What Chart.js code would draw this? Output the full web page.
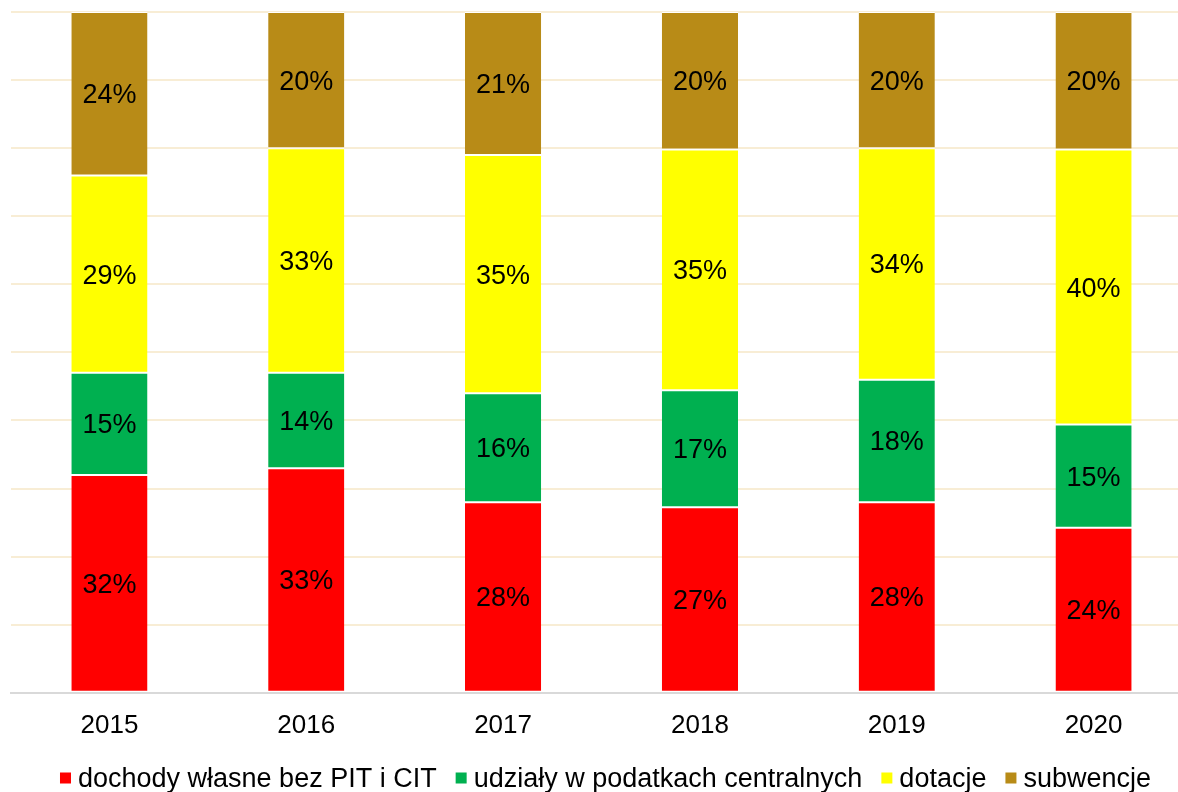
<!DOCTYPE html>
<html>
<head>
<meta charset="utf-8">
<script src="https://cdn.jsdelivr.net/npm/chart.js@4.4.1/dist/chart.umd.min.js"></script>
<style>
    html, body { margin: 0; padding: 0; background: #ffffff; overflow: hidden; }
    #wrap { width: 1192px; height: 792px; position: relative; }
</style>
</head>
<body>
<div id="wrap"><canvas id="chart"></canvas></div>
<script>
const years = ["2015", "2016", "2017", "2018", "2019", "2020"];

const dochodyWlasne = [32, 33, 28, 27, 28, 24];
const udzialyPodatki = [15, 14, 16, 17, 18, 15];
const dotacje = [29, 33, 35, 35, 34, 40];
const subwencje = [24, 20, 21, 20, 20, 20];

const seriesNames = [
    "dochody własne bez PIT i CIT",
    "udziały w podatkach centralnych",
    "dotacje",
    "subwencje"
];
const seriesColors = ["#FF0000", "#00B050", "#FFFF00", "#B88B17"];

const seriesValues = [dochodyWlasne, udzialyPodatki, dotacje, subwencje];

// each column is a 100% stack, so shares are taken against the column total
const totals = years.map((_, i) => seriesValues.reduce((sum, s) => sum + s[i], 0));

const datasets = seriesValues.map((values, k) => ({
    label: seriesNames[k],
    data: values.map((v, i) => v / totals[i] * 100),
    rawValues: values,
    backgroundColor: seriesColors[k],
    borderColor: "#ffffff",
    borderWidth: { top: 1, bottom: 1, left: 0, right: 0 },
    borderSkipped: false,
    barPercentage: 1,
    categoryPercentage: 0.387
}));

const FONT = "'Liberation Sans', Arial, sans-serif";

// writes the percentage in the middle of each segment
const segmentLabels = {
    id: "segmentLabels",
    afterDatasetsDraw(chart) {
        const ctx = chart.ctx;
        ctx.save();
        ctx.font = "27px " + FONT;
        ctx.fillStyle = "#000000";
        ctx.textAlign = "center";
        ctx.textBaseline = "middle";
        chart.data.datasets.forEach((ds, di) => {
            const meta = chart.getDatasetMeta(di);
            meta.data.forEach((bar, i) => {
                const p = bar.getProps(["x", "y", "base"], true);
                ctx.fillText(ds.rawValues[i] + "%", p.x, (p.y + p.base) / 2 + 2);
            });
        });
        ctx.restore();
    }
};

// legend row under the axis: small square, then the series name
const bottomLegend = {
    id: "bottomLegend",
    afterDraw(chart) {
        const ctx = chart.ctx;
        const box = 11, gap = 7, spacing = 19;
        const y = 778;
        ctx.save();
        ctx.font = "27px " + FONT;
        ctx.textBaseline = "middle";
        const widths = seriesNames.map(n => ctx.measureText(n).width);
        const total = widths.reduce((a, w) => a + box + gap + w, 0) + spacing * (seriesNames.length - 1);
        const area = chart.chartArea;
        let x = (area.left + area.right) / 2 - total / 2 + 4;
        seriesNames.forEach((name, k) => {
            ctx.fillStyle = seriesColors[k];
            ctx.fillRect(x, y - box / 2, box, box);
            x += box + gap;
            ctx.fillStyle = "#000000";
            ctx.textAlign = "left";
            ctx.fillText(name, x, y + 2);
            x += widths[k] + spacing;
        });
        ctx.restore();
    }
};

new Chart(document.getElementById("chart").getContext("2d"), {
    type: "bar",
    data: { labels: years, datasets },
    options: {
        animation: false,
        responsive: true,
        maintainAspectRatio: false,
        layout: { padding: { left: 11, right: 0, top: 12, bottom: 42 } },
        plugins: {
            tooltip: { enabled: false },
            legend: { display: false }
        },
        scales: {
            x: {
                stacked: true,
                grid: { display: false },
                border: { display: true, color: "#D9D9D9", width: 2 },
                ticks: {
                    color: "#000000",
                    font: { family: FONT, size: 26 },
                    padding: 9
                }
            },
            y: {
                stacked: true,
                min: 0,
                max: 100,
                ticks: { display: false, stepSize: 10 },
                grid: { color: "#F8EDD5", lineWidth: 2, drawTicks: false },
                border: { display: false }
            }
        }
    },
    plugins: [segmentLabels, bottomLegend]
});
</script>
</body>
</html>
